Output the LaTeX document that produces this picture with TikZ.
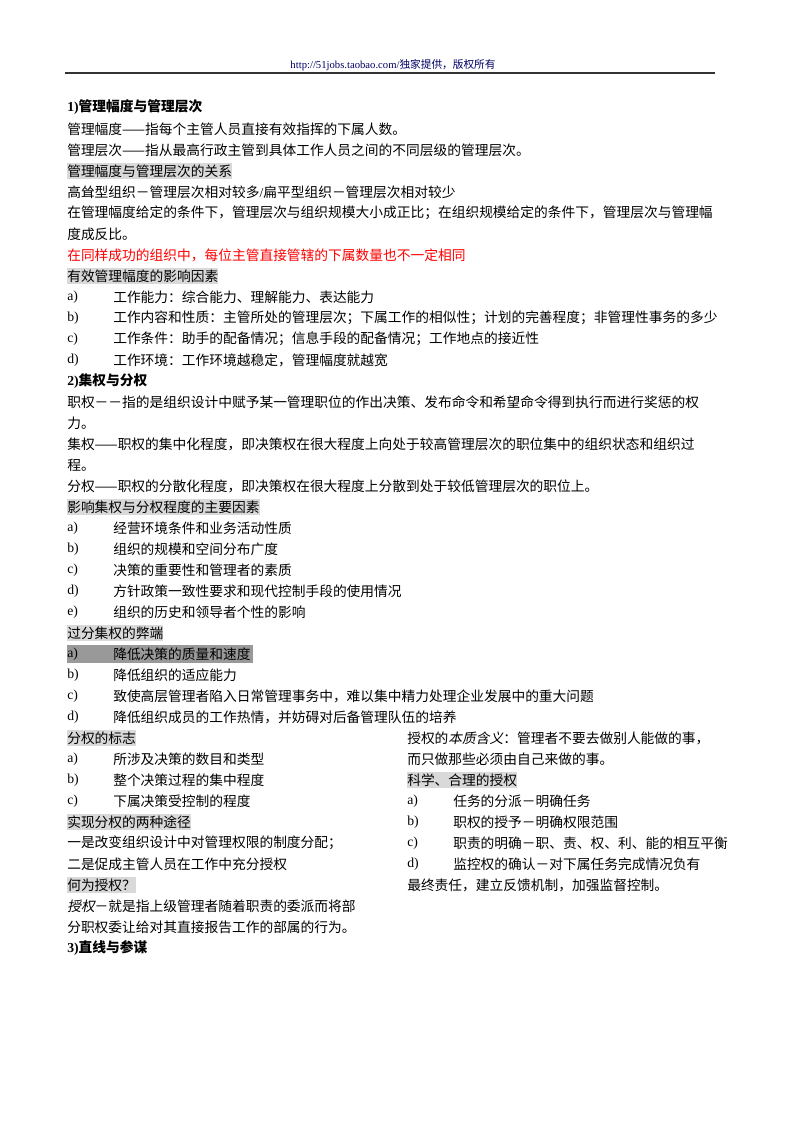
\documentclass[tikz,border=0pt]{standalone}
\usepackage{fontspec}
\setmainfont{Noto Sans CJK SC}
\newfontfamily\tnr{Liberation Serif}
\newfontfamily\cjkit{Noto Sans CJK SC}[FakeSlant=0.2]
\begin{document}
\begin{tikzpicture}[x=0.75pt,y=-0.75pt,
  t/.style={anchor=west,inner sep=0pt,font=\fontsize{10.3}{12}\selectfont},
  hl/.style={t,fill=black!15,inner ysep=1.5pt},
  hd/.style={t,font=\fontsize{10.3}{12}\selectfont\bfseries}]
\useasboundingbox (0,0) rectangle (800,1132);
\fill[white] (0,0) rectangle (800,1132);
\node[inner sep=0pt,font=\fontsize{8}{10}\selectfont,text=blue!40!black] (hdr) at (393,65) {{\tnr http://51jobs.taobao.com/}独家提供，版权所有};
\draw[line width=1pt,black!80] (65,73) coordinate (r1) -- (715,73) coordinate (r2);
\newcommand\itm[4]{\node[t] (#1l) at (#2,#3) {\tnr #4};}
\node[hd] (h1) at (67,107) {{\tnr\bfseries 1)}管理幅度与管理层次};
\node[t] (l1) at (67,129) {管理幅度——指每个主管人员直接有效指挥的下属人数。};
\node[t] (l2) at (67,150) {管理层次——指从最高行政主管到具体工作人员之间的不同层级的管理层次。};
\node[hl] (l3) at (67,171) {管理幅度与管理层次的关系};
\node[t] (l4) at (67,192) {高耸型组织－管理层次相对较多{\tnr /}扁平型组织－管理层次相对较少};
\node[t] (l5) at (67,213) {在管理幅度给定的条件下，管理层次与组织规模大小成正比；在组织规模给定的条件下，管理层次与管理幅};
\node[t] (l6) at (67,234) {度成反比。};
\node[t,text=red] (l7) at (67,255) {在同样成功的组织中，每位主管直接管辖的下属数量也不一定相同};
\node[hl] (l8) at (67,276) {有效管理幅度的影响因素};
\itm{a1}{67}{297}{a)} \node[t] (a1) at (113,297) {工作能力：综合能力、理解能力、表达能力};
\itm{b1}{67}{318}{b)} \node[t] (b1) at (113,318) {工作内容和性质：主管所处的管理层次；下属工作的相似性；计划的完善程度；非管理性事务的多少};
\itm{c1}{67}{339}{c)} \node[t] (c1) at (113,339) {工作条件：助手的配备情况；信息手段的配备情况；工作地点的接近性};
\itm{d1}{67}{360}{d)} \node[t] (d1) at (113,360) {工作环境：工作环境越稳定，管理幅度就越宽};
\node[hd] (h2) at (67,381) {{\tnr\bfseries 2)}集权与分权};
\node[t] (m1) at (67,402) {职权－－指的是组织设计中赋予某一管理职位的作出决策、发布命令和希望命令得到执行而进行奖惩的权};
\node[t] (m2) at (67,423) {力。};
\node[t] (m3) at (67,444) {集权——职权的集中化程度，即决策权在很大程度上向处于较高管理层次的职位集中的组织状态和组织过};
\node[t] (m4) at (67,465) {程。};
\node[t] (m5) at (67,486) {分权——职权的分散化程度，即决策权在很大程度上分散到处于较低管理层次的职位上。};
\node[hl] (m6) at (67,507) {影响集权与分权程度的主要因素};
\itm{a2}{67}{528}{a)} \node[t] (a2) at (113,528) {经营环境条件和业务活动性质};
\itm{b2}{67}{549}{b)} \node[t] (b2) at (113,549) {组织的规模和空间分布广度};
\itm{c2}{67}{570}{c)} \node[t] (c2) at (113,570) {决策的重要性和管理者的素质};
\itm{d2}{67}{591}{d)} \node[t] (d2) at (113,591) {方针政策一致性要求和现代控制手段的使用情况};
\itm{e2}{67}{612}{e)} \node[t] (e2) at (113,612) {组织的历史和领导者个性的影响};
\node[hl] (m7) at (67,633) {过分集权的弊端};
\fill[black!40] (67,645) rectangle (253,663);
\itm{a3}{67}{654}{a)} \node[t] (a3) at (113,654) {降低决策的质量和速度};
\itm{b3}{67}{675}{b)} \node[t] (b3) at (113,675) {降低组织的适应能力};
\itm{c3}{67}{696}{c)} \node[t] (c3) at (113,696) {致使高层管理者陷入日常管理事务中，难以集中精力处理企业发展中的重大问题};
\itm{d3}{67}{717}{d)} \node[t] (d3) at (113,717) {降低组织成员的工作热情，并妨碍对后备管理队伍的培养};
\node[hl] (n1) at (67,738) {分权的标志};
\itm{a4}{67}{759}{a)} \node[t] (a4) at (113,759) {所涉及决策的数目和类型};
\itm{b4}{67}{780}{b)} \node[t] (b4) at (113,780) {整个决策过程的集中程度};
\itm{c4}{67}{801}{c)} \node[t] (c4) at (113,801) {下属决策受控制的程度};
\node[hl] (n2) at (67,822) {实现分权的两种途径};
\node[t] (n3) at (67,843) {一是改变组织设计中对管理权限的制度分配；};
\node[t] (n4) at (67,864) {二是促成主管人员在工作中充分授权};
\node[hl] (n5) at (67,885) {何为授权？};
\node[t] (n6) at (67,906) {{\cjkit 授权}－就是指上级管理者随着职责的委派而将部};
\node[t] (n7) at (67,927) {分职权委让给对其直接报告工作的部属的行为。};
\node[hd] (h3) at (67,948) {{\tnr\bfseries 3)}直线与参谋};
\node[t] (r1n) at (407,738) {授权的{\cjkit 本质含义}：管理者不要去做别人能做的事，};
\node[t] (r2n) at (407,759) {而只做那些必须由自己来做的事。};
\node[hl] (r3n) at (407,780) {科学、合理的授权};
\itm{a5}{407}{801}{a)} \node[t] (a5) at (453,801) {任务的分派－明确任务};
\itm{b5}{407}{822}{b)} \node[t] (b5) at (453,822) {职权的授予－明确权限范围};
\itm{c5}{407}{843}{c)} \node[t] (c5) at (453,843) {职责的明确－职、责、权、利、能的相互平衡};
\itm{d5}{407}{864}{d)} \node[t] (d5) at (453,864) {监控权的确认－对下属任务完成情况负有};
\node[t] (r4n) at (407,885) {最终责任，建立反馈机制，加强监督控制。};
\end{tikzpicture}
\end{document}
